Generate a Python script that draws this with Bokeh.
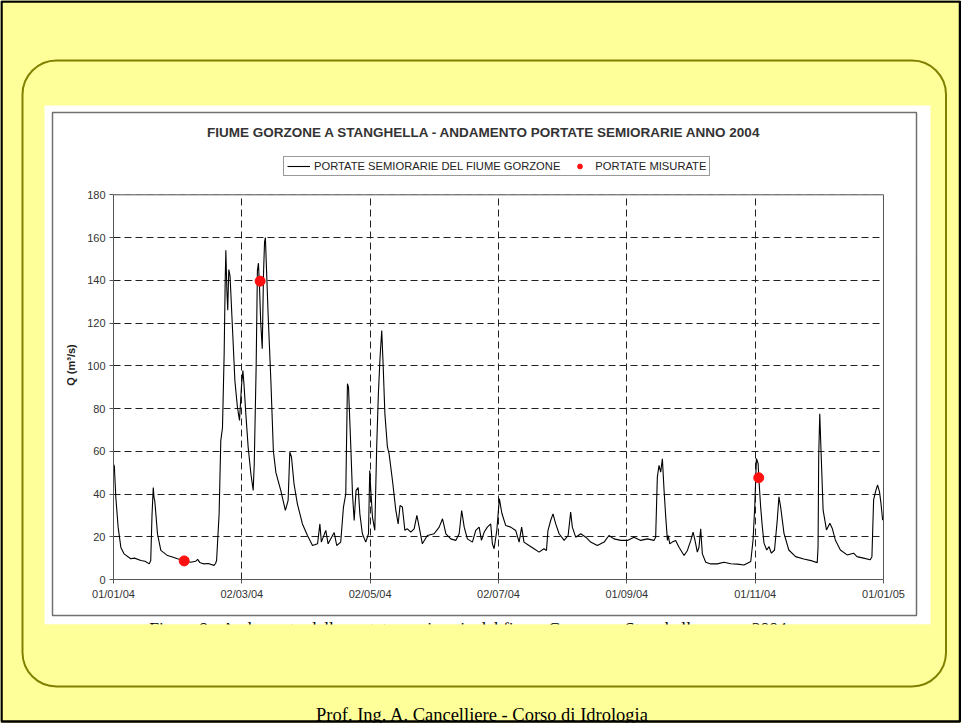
import pandas as pd
from bokeh.plotting import figure
from bokeh.models import (FixedTicker, DatetimeTickFormatter, Legend, LegendItem,
                          BoxAnnotation, Range1d, Span, LinearAxis)
from bokeh.layouts import column, row
from bokeh.embed import file_html
from bokeh.resources import INLINE
from bokeh.core.properties import value

# ---------------- data ----------------
series_day = [0, 0.4, 1.1, 2.2, 3.5, 5, 8.2, 10, 13, 15, 17, 17.7, 18.3, 18.9, 19.3, 19.6, 20.2, 20.9,
              22.5, 25.7, 28, 30.4, 33.6, 36.8, 39, 40, 41, 43, 45, 47.8, 48.5, 49, 50.2, 51, 51.8,
              52.6, 53.1, 53.4, 53.9, 54.3, 54.8, 55.4, 56.6, 57.7, 58.9, 59.9, 60.8, 61.5, 62, 62.9,
              64, 65.3, 66.4, 66.9, 67.8, 68.4, 68.9, 69.4, 70, 70.7, 71.3, 71.8, 72.2, 72.7, 73.5,
              74.8, 76, 77.2, 79.5, 81.7, 83, 83.8, 84.6, 85.8, 87.4, 89.8, 92.2, 94.6, 97, 98.1,
              98.8, 100.9, 102, 104.9, 106.1, 108, 109.3, 110.4, 111.2, 111.7, 112.8, 113.6, 114.4,
              115.3, 116.3, 117.1, 118.3, 119.9, 121.2, 121.8, 122.3, 123.1, 124.2, 125.1, 125.9,
              126.7, 127.5, 128.2, 129, 130.2, 131, 132.6, 134.2, 135.3, 136.2, 137.3, 138.5, 139.7,
              141.3, 142.9, 144.2, 145.3, 146.8, 149.2, 152.4, 154.8, 156.4, 158, 160.3, 162.7,
              164.3, 165.5, 166.7, 168.2, 170.6, 172.2, 173.8, 174.9, 176.2, 177.7, 179.3, 180.1,
              180.9, 182.2, 183.4, 184.6, 186.4, 188.8, 191.2, 192.8, 194, 195.1, 197.5, 199.9,
              202.3, 204.6, 205.8, 206.5, 207.8, 208.9, 210.2, 211.8, 214.2, 216.1, 217.3, 218.1,
              219.7, 222.1, 224.5, 226.8, 230, 233.2, 235.5, 237.9, 241.1, 244.3, 247.4, 250.6,
              253.8, 256.9, 257.7, 258.5, 259.3, 260.1, 260.9, 261.7, 262.5, 263.3, 263.7, 264.4,
              265.6, 267.2, 268.8, 271.2, 272.8, 274.4, 275.5, 276.4, 277.5, 278.3, 279.1, 279.9,
              281.5, 283.9, 287, 290.2, 293.4, 296.6, 299.7, 302.9, 304, 304.8, 305.6, 306.4, 306.8,
              307.6, 308.4, 309.2, 310.5, 311.6, 312.7, 314.2, 315.5, 316.3, 317.1, 318.7, 321,
              324.2, 328.1, 332.1, 334.5, 334.9, 335.2, 335.7, 336.3, 337.3, 338.9, 340.5, 341.6,
              343.1, 345.5, 348.7, 351.8, 353.4, 356.5, 359.7, 360.5, 361.3, 362.4, 363.2, 364.1,
              364.8, 365.6]
series_q = [54, 53, 38.5, 24.5, 15, 12, 9.7, 10, 8.9, 8.5, 7.3, 8.9, 30, 43, 38, 37, 30, 21.4,
            13.6, 11.2, 10.5, 9.7, 8.9, 8.1, 8.5, 9.4, 8, 7.3, 7.5, 6.6, 7.5, 8.9, 30.7, 65, 71,
            105.6, 140, 154, 135, 126, 145, 142, 116.5, 93, 80.7, 74.4, 90, 97.8, 91.6, 77.5,
            62, 49.5, 41.7, 54, 99.4, 144.6, 148, 136.8, 119.7, 108, 143, 158, 160, 146, 124,
            93, 60, 50, 41.7, 32.3, 37, 59.6, 57.3, 44.8, 35.4, 26, 20.6, 15.9, 16.7, 26,
            17.5, 23, 16.7, 22, 15.9, 17.5, 33.9, 40, 91.6, 90, 62, 40, 27.6,
            41.7, 43, 30.7, 21.4, 17.5, 21.4, 51, 41.7, 29.2, 23, 62, 86.9,
            104, 116.5, 99.4, 77.5, 62, 58.8, 46.3, 32.3, 26, 34.6, 33.9, 23, 23.7,
            22.2, 23.7, 30, 24.5, 16.7, 20.6, 21.4, 24.5, 28.4, 21.4, 19, 18.3,
            21.4, 32.3, 24.5, 19, 17.5, 23, 24.5, 18.3, 22.2, 24.5, 26, 16.7,
            14.4, 23, 37.8, 31, 25.3, 24.5, 22.9, 17.5, 24.5, 17.5, 15.9, 14.4,
            12.8, 14.4, 13.6, 22.9, 27.6, 30.7, 26, 21.4, 18.3, 20.6, 31.5, 24.5,
            19.8, 21.4, 19.8, 17.5, 15.9, 17.5, 20.6, 19, 18.3, 18.3, 19.8, 18.3,
            19, 18.3, 19.8, 47.9, 53.4, 50.2, 56.5, 41.7, 29.2, 18.3, 20.6, 16.7,
            17.5, 18.3, 15.1, 11.2, 13.6, 18.3, 22.2, 18.3, 12.8, 15.1, 23.7, 12,
            8.1, 7.3, 7.3, 8.1, 7.4, 7.2, 6.8, 8.4, 18.5, 34, 56.6, 54.3, 46.5,
            34, 24.7, 17, 13.8, 15.4, 12.3, 13.8, 27.8, 38.7, 34, 21.6, 13.8,
            10.7, 9.6, 8.7, 7.9, 15.4, 57.4, 77.6, 60.5, 32.5, 23.2, 26.3, 24,
            18.5, 13.8, 11.5, 12.3, 10.7, 10, 9.2, 10.7, 37.2, 41.8, 44.2, 41,
            35.6, 27.8]
measured_day = [33.6, 69.7, 306.7]
measured_q = [8.7, 139.6, 47.6]

tick_dates = ["2004-01-01", "2004-03-02", "2004-05-02", "2004-07-02", "2004-09-01", "2004-11-01", "2005-01-01"]
tick_labels = ["01/01/04", "02/03/04", "02/05/04", "02/07/04", "01/09/04", "01/11/04", "01/01/05"]
y_ticks = [0, 20, 40, 60, 80, 100, 120, 140, 160, 180]
y_max = 180

title_text = "FIUME GORZONE A STANGHELLA - ANDAMENTO PORTATE SEMIORARIE ANNO 2004"
legend_labels = ["PORTATE SEMIORARIE DEL FIUME GORZONE", "PORTATE MISURATE"]
y_label = "Q (m\u00b3/s)"
caption_text = "Figura 9 - Andamento delle portate semiorarie del fiume Gorzone a Stanghella - anno 2004"
footer_text = "Prof. Ing. A. Cancelliere - Corso di Idrologia"

# ---------------- page background ----------------
W, H = 961, 723
YELLOW = "#FFFF99"
bg = figure(width=W, height=H, x_range=Range1d(0, W), y_range=Range1d(0, H),
            x_axis_location=None, y_axis_location=None, output_backend="svg",
            toolbar_location=None, min_border=0)
bg.grid.visible = False
bg.outline_line_color = None
bg.background_fill_color = YELLOW
bg.border_fill_color = YELLOW

def py(y):
    return H - y

bg.quad(left=[1], right=[959.5], top=[py(1)], bottom=[py(721)], fill_color=None,
        line_color="black", line_width=2.5)
bg.add_layout(BoxAnnotation(left=22, right=945.5, top=py(60), bottom=py(686), fill_color=None,
                            fill_alpha=0, line_color="#808000", line_alpha=1, line_width=2,
                            border_radius=34, level="underlay"))
bg.quad(left=[44], right=[930], top=[py(105)], bottom=[py(624)], fill_color="white", line_color=None)
bg.quad(left=[52], right=[916], top=[py(112)], bottom=[py(615)], fill_color=None,
        line_color="#707070", line_width=1.5)
bg.text(x=[468], y=[py(627)], text=[caption_text], text_align="center", text_baseline="alphabetic",
        text_font=value("Liberation Serif"), text_font_size="17.5px", text_color="black")
bg.quad(left=[44], right=[930], top=[py(624)], bottom=[py(660)], fill_color=YELLOW, line_color=None)
bg.text(x=[482], y=[py(714)], text=[footer_text], text_align="center", text_baseline="alphabetic",
        text_font=value("Liberation Serif"), text_font_size="18.5px", text_color="black")
bg.text(x=[484], y=[py(132)], text=[title_text], text_align="center", text_baseline="middle",
        text_font=value("Liberation Sans"), text_font_style="bold", text_font_size="13.5px",
        text_color="#333333")

# ---------------- chart ----------------
start = pd.Timestamp("2004-01-01")
x_series = start + pd.to_timedelta(series_day, unit="D")
x_meas = start + pd.to_timedelta(measured_day, unit="D")
tick_ts = pd.to_datetime(tick_dates)
tick_ms = [t.value / 1e6 for t in tick_ts]

# frame runs from page y=150 (room for the legend) to y=579 (Q=0); Q=180 sits at y=194.3
FRAME_TOP, Q0_Y, QMAX_Y = 150.0, 579.0, 194.3
y_top = y_max * (Q0_Y - FRAME_TOP) / (Q0_Y - QMAX_Y)

chart = figure(width=886, height=519, x_axis_type="datetime",
               x_range=Range1d(tick_ts[0], tick_ts[-1]), y_range=Range1d(0, y_top),
               output_backend="svg", toolbar_location=None,
               min_border_left=69, min_border_right=47, min_border_top=45, min_border_bottom=45)
chart.styles = {"position": "absolute", "left": "44px", "top": "105px"}
chart.border_fill_color = None
chart.background_fill_color = None
chart.outline_line_color = None

for g in (chart.xgrid, chart.ygrid):
    g.grid_line_color = "#222222"
    g.grid_line_dash = "7 4"
    g.grid_line_width = 1
chart.xgrid.ticker = FixedTicker(ticks=tick_ms)
chart.ygrid.ticker = FixedTicker(ticks=y_ticks)

chart.xaxis.ticker = FixedTicker(ticks=tick_ms)
fmt = "%d/%m/%y"
chart.xaxis.formatter = DatetimeTickFormatter(days=fmt, months=fmt, years=fmt, hours=fmt,
                                              hourmin=fmt, minutes=fmt, minsec=fmt, seconds=fmt,
                                              milliseconds=fmt, microseconds=fmt)
chart.xaxis.major_label_overrides = {ms: lab for ms, lab in zip(tick_ms, tick_labels)}
chart.yaxis.ticker = FixedTicker(ticks=y_ticks)
chart.yaxis.bounds = (0, y_max)
chart.yaxis.axis_label = y_label
chart.yaxis.axis_label_text_font_style = "bold"
chart.yaxis.axis_label_text_font_size = "11px"
chart.yaxis.axis_label_text_font = "Liberation Sans"
chart.yaxis.axis_label_text_color = "#222222"
chart.yaxis.axis_label_standoff = 7
for ax in (chart.xaxis, chart.yaxis):
    ax.axis_line_color = "#555555"
    ax.major_tick_line_color = "#555555"
    ax.major_tick_in = 0
    ax.major_tick_out = 4
    ax.minor_tick_line_color = None
    ax.major_label_text_font = "Liberation Sans"
    ax.major_label_text_font_size = "11px"
    ax.major_label_text_color = "#333333"
    ax.major_label_standoff = 4

# right border of the plot area (0..180) as a bare axis
right_ax = LinearAxis(bounds=(0, y_max), ticker=FixedTicker(ticks=[]), axis_line_color="#555555",
                      major_tick_line_color=None, minor_tick_line_color=None)
chart.add_layout(right_ax, "right")

# blank out the strip above Q=180 (grid lines there) and close the box at the top
chart.add_layout(BoxAnnotation(bottom=y_max, fill_color="white", fill_alpha=1, line_color=None))
chart.add_layout(Span(location=y_max, dimension="width", line_color="#555555", line_width=1))

line_r = chart.line(x_series, series_q, line_color="black", line_width=1.1)
pts_r = chart.scatter(x_meas, measured_q, size=10, fill_color="#FF1010", line_color="#FF1010")

legend = Legend(items=[LegendItem(label=legend_labels[0], renderers=[line_r]),
                       LegendItem(label=legend_labels[1], renderers=[pts_r])],
                orientation="horizontal", location=(170, 403),
                label_text_font="Liberation Sans", label_text_font_size="11.2px",
                label_text_color="#222222", border_line_color="#333333", border_line_width=1,
                background_fill_color="white", background_fill_alpha=1,
                padding=3, spacing=8, glyph_width=23, glyph_height=12, label_height=12,
                label_standoff=4, margin=0)
chart.add_layout(legend)

root = column(row(bg), chart, spacing=0)
open("out.html", "w").write(file_html(root, INLINE))
